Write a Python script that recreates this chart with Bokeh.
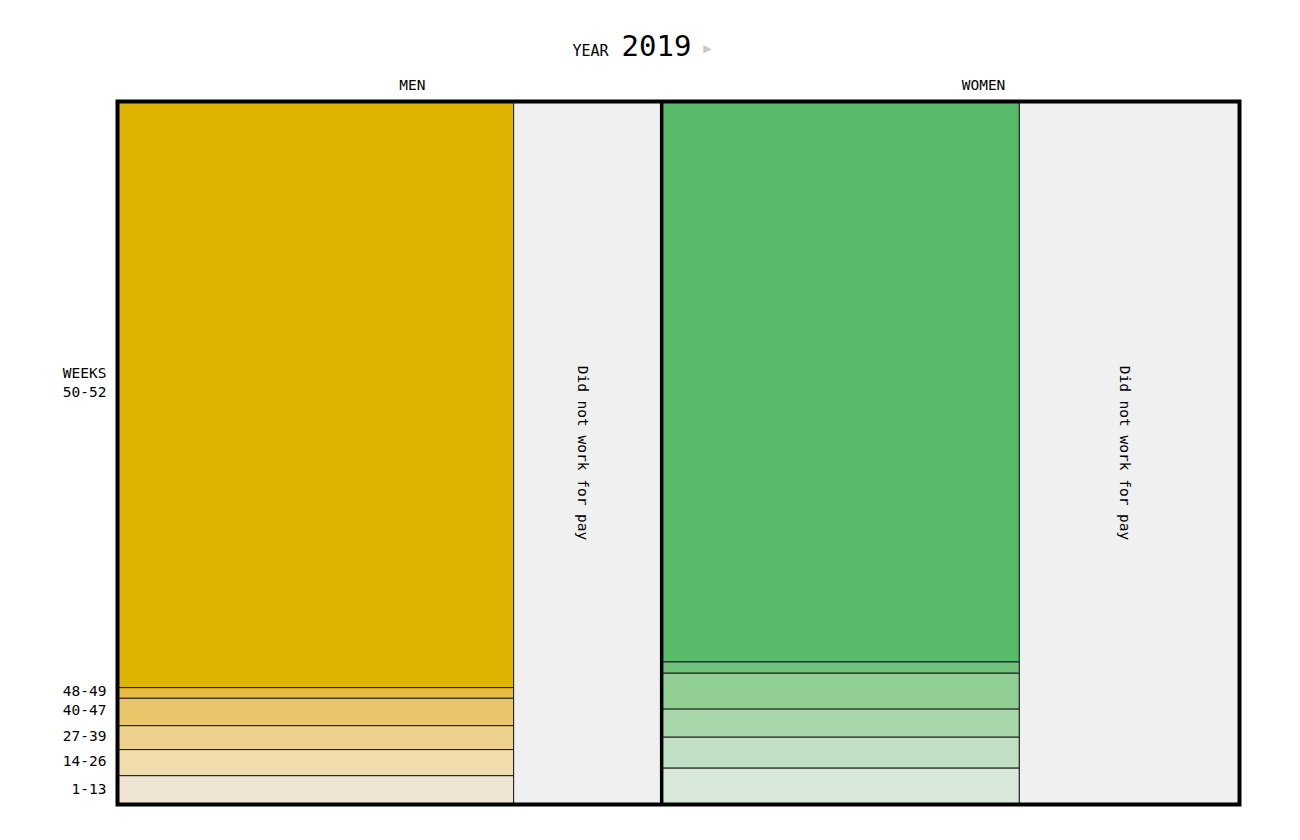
import math
from bokeh.plotting import figure
from bokeh.models import Range1d, FixedTicker
from bokeh.core.properties import value
from bokeh.embed import file_html
from bokeh.resources import INLINE

# ---- data ----
year = "2019"
groups = ["MEN", "WOMEN"]
group_share = [0.485, 0.515]          # width of each panel (share of population)
worked_share = [0.728, 0.619]         # share that worked for pay in the year
week_bins = ["1-13", "14-26", "27-39", "40-47", "48-49", "50-52"]
men_dist = [0.041, 0.037, 0.034, 0.039, 0.015, 0.832]
women_dist = [0.052, 0.044, 0.040, 0.051, 0.016, 0.797]
men_colors = ["#EFE4D1", "#F1DCAB", "#EFD18E", "#EAC66A", "#E6BB45", "#DFB400"]
women_colors = ["#D7E7DA", "#C1E0C3", "#A7D6AA", "#91CE94", "#71C27C", "#57BA68"]
not_worked_label = "Did not work for pay"
week_tick_labels = ["1-13", "14-26", "27-39", "40-47", "48-49", "WEEKS\n50-52"]

FONT = "DejaVu Sans Mono"
LABEL_FRAC = [0.542, 0.557]   # where each group label sits across its panel

# frame geometry: data box [0,1]x[0,1] occupies 1122x703 px; extra room on top for titles
PXX, PXY = 1122.0, 703.0
p = figure(width=1300, height=840, output_backend="svg", toolbar_location=None,
           x_range=Range1d(-4 / PXX, 1 + 4 / PXX),
           y_range=Range1d(-4 / PXY, 1 + 81 / PXY),
           y_axis_location="left",
           min_border_left=113, min_border_right=57,
           min_border_top=20, min_border_bottom=32)
p.xaxis.visible = False
p.grid.visible = False
p.background_fill_color = "white"
p.border_fill_color = "white"
p.outline_line_color = None

dists = [men_dist, women_dist]
colors = [men_colors, women_colors]

left = 0.0
label_x = []
for gi, g in enumerate(groups):
    w = group_share[gi] / sum(group_share)
    right = left + w
    split = left + w * worked_share[gi]
    d = dists[gi]
    tot = sum(d)
    b = 0.0
    bots, tops = [], []
    for v in d:
        bots.append(b)
        b += v / tot
        tops.append(b)
    p.quad(left=[left] * len(d), right=[split] * len(d), bottom=bots, top=tops,
           fill_color=colors[gi], line_color="#1a1a1a", line_width=1)
    p.quad(left=[split], right=[right], bottom=[0], top=[1],
           fill_color="#F0F0F0", line_color="#1a1a1a", line_width=1)
    p.text(x=[(split + right) / 2 - 0.004], y=[0.5], text=[not_worked_label], angle=-math.pi / 2,
           text_align="center", text_baseline="middle", text_font=value(FONT),
           text_font_size="14.5px", text_color="black")
    if gi == 0:
        week_centers = [(bb + tt) / 2 + 0.002 for bb, tt in zip(bots, tops)]
        week_centers[-1] += 0.015
    label_x.append(left + w * LABEL_FRAC[gi])
    left = right

# group labels above the panels
p.text(x=label_x, y=[1.0228] * len(label_x), text=groups, text_align="center",
       text_baseline="middle", text_font=value(FONT), text_font_size="14.5px", text_color="black")

# divider between men and women panels
bx = group_share[0] / sum(group_share)
p.segment(x0=[bx], y0=[0], x1=[bx], y1=[1], line_color="black", line_width=3.5)

# outer frame
p.quad(left=[0], right=[1], bottom=[0], top=[1], fill_color=None,
       line_color="black", line_width=4, line_join="miter")

# left axis: week labels
ya = p.yaxis[0]
ya.ticker = FixedTicker(ticks=week_centers)
ya.major_label_overrides = {c: t for c, t in zip(week_centers, week_tick_labels)}
ya.axis_line_color = None
ya.major_tick_line_color = None
ya.minor_tick_line_color = None
ya.major_tick_out = 0
ya.major_tick_in = 0
ya.major_label_standoff = 7
ya.major_label_text_font = FONT
ya.major_label_text_font_size = "14.5px"
ya.major_label_text_color = "black"

# title: YEAR 2019 ▶
p.text(x=[0.4216], y=[1.0725], text=["YEAR"], text_font=value(FONT), text_font_size="15px",
       text_align="center", text_baseline="middle", text_color="black")
p.text(x=[0.4492], y=[1.0797], text=[year], text_font=value(FONT), text_font_size="29px",
       text_align="left", text_baseline="middle", text_color="black")
p.text(x=[0.522], y=[1.0754], text=["▶"], text_font=value(FONT), text_font_size="14px",
       text_align="left", text_baseline="middle", text_color="#C8C8C8")

open("out.html", "w").write(file_html(p, INLINE))
